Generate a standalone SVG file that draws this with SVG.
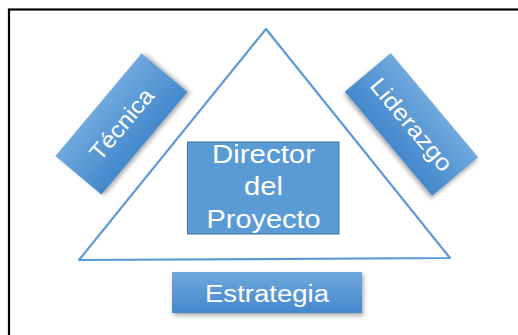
<svg xmlns="http://www.w3.org/2000/svg" width="518" height="335" viewBox="0 0 518 335">
  <style>
    .lbl { font-family: "Liberation Sans", Arial, sans-serif; fill: #ffffff; text-anchor: middle; }
    .box { fill: url(#grad); filter: url(#shadow); }
  </style>
  <defs>
    <linearGradient id="grad" x1="0" y1="0" x2="0" y2="1">
      <stop offset="0" stop-color="#6fa8dd"/>
      <stop offset="1" stop-color="#4488cc"/>
    </linearGradient>
    <filter id="shadow" x="-20%" y="-20%" width="140%" height="150%">
      <feDropShadow dx="1.5" dy="2.5" stdDeviation="2" flood-color="#000" flood-opacity="0.35"/>
    </filter>
  </defs>
  <rect x="0" y="0" width="518" height="335" fill="#ffffff"/>
  <rect x="9" y="9.5" width="530" height="340" fill="none" stroke="#000" stroke-width="2.2"/>

  <g id="connectors">
    <polygon points="266,29 450,258 79,260" fill="none" stroke="#5b9bd5" stroke-width="2.2" stroke-linejoin="round"/>
  </g>

  <g id="tecnica" transform="translate(121.5,124) rotate(-50)">
    <rect class="box" x="-67" y="-30" width="134" height="60"/>
    <text class="lbl" x="0" y="8" font-size="23" textLength="86" lengthAdjust="spacingAndGlyphs">Técnica</text>
  </g>

  <g id="liderazgo" transform="translate(411.5,124.5) rotate(50)">
    <rect class="box" x="-68" y="-30" width="136" height="60"/>
    <text class="lbl" x="0" y="8" font-size="23" textLength="114" lengthAdjust="spacingAndGlyphs">Liderazgo</text>
  </g>

  <g id="director">
    <rect x="187.5" y="142" width="151.5" height="92" fill="#5b9bd5" stroke="#41719c" stroke-width="1"/>
    <text class="lbl" x="263.5" y="163" font-size="25" textLength="103" lengthAdjust="spacingAndGlyphs">Director</text>
    <text class="lbl" x="263.5" y="195" font-size="25" textLength="39" lengthAdjust="spacingAndGlyphs">del</text>
    <text class="lbl" x="263.5" y="228" font-size="25" textLength="114" lengthAdjust="spacingAndGlyphs">Proyecto</text>
  </g>

  <g id="estrategia">
    <rect class="box" x="172" y="272" width="190" height="41"/>
    <text class="lbl" x="267" y="302" font-size="23" textLength="124" lengthAdjust="spacingAndGlyphs">Estrategia</text>
  </g>
</svg>
